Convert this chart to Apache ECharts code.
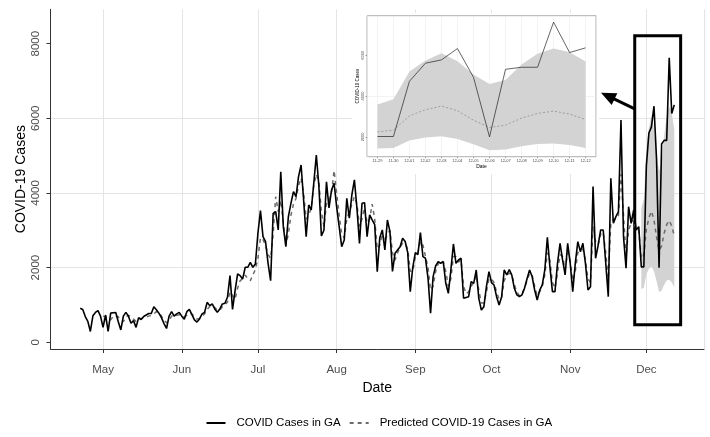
<!DOCTYPE html>
<html><head><meta charset="utf-8">
<script src="https://cdn.jsdelivr.net/npm/echarts@6/dist/echarts.min.js"></script>
<style>html,body{margin:0;padding:0;background:#fff}#c{width:710px;height:437px}</style>
</head><body><div id="c"></div>
<script>
// ---------- data ----------
const actualStart = [2020, 3, 22];      // 2020-04-22
const actual = [
 910, 880, 690, 560, 290, 710, 800, 850, 700, 400,
 730, 290, 780, 790, 800, 550, 330, 700, 800, 700,
 510, 580, 400, 660, 610, 690, 730, 770, 770, 950,
 870, 780, 660, 500, 370, 700, 820, 700, 760, 800,
 700, 620, 820, 880, 740, 600, 540, 625,
 759, 803, 1070, 982, 1026, 893, 803, 893, 1026, 1044,
 1205, 1785, 880, 1384, 1830, 1785, 1697, 2009, 2009, 2143, 2009, 2098,
 2920, 3527, 2830, 2697, 2116, 1650, 3455, 3500, 3009, 4570,
 3098, 2562, 3366, 3723, 4036, 3902, 4438, 4750, 3813, 2830,
 3679, 3544, 4259, 5018,
 4200, 2850, 3000, 4300, 3600, 4081, 4260, 3634, 3098, 2560,
 2741, 3858, 3322, 3947, 4350, 3590, 2650, 3724, 3740, 2830,
 3411, 3277, 3150, 1890, 2800, 3009, 2473, 3277, 2964, 1900,
 2384, 2473, 2561, 2785, 2700, 2400,
 1356, 2009, 2400, 2350, 2940, 2293, 2250, 1714, 777, 1758,
 2044, 2160, 2116, 2160, 1580, 1312, 1937, 2634, 2116, 2205,
 2250, 1178, 1200, 1222, 1624, 1580, 1937, 1178, 865, 954,
 1490, 1892, 1600, 1535, 1222, 1000, 1222, 1937, 1803, 1950,
 1800, 1446, 1270, 1222, 1270, 1446, 1700, 1937, 1760, 1400,
 1133, 1400, 1535, 1937, 2813, 2026, 1356, 1356, 2116, 2652,
 2205, 1803, 2652, 2116, 1356, 2116, 2696, 2428, 2652, 2116,
 1401, 1490, 4170, 2250, 2600, 3009, 3009, 2116, 1222, 4393,
 3188, 3366, 3500, 5955, 2830, 1982, 3633, 3188, 3544, 3009, 3098,
 2020, 2020, 4722, 5607, 5770, 6325, 4920, 2000, 5310, 5410, 5410, 7620, 6130, 6360
];
const predictedStart = [2020, 4, 1];    // 2020-05-01
const predicted = [
 700, 680, 650, 600, 700, 720, 680, 600, 550, 680, 720,
 690, 620, 560, 600, 640, 650, 680, 700, 720, 760,
 820, 800, 700, 600, 520, 580, 700, 740, 720, 740,
 730, 690, 720, 780, 760, 680, 620, 640,
 700, 760, 880, 960, 980, 930, 860, 860, 950, 1000,
 1080, 1350, 1250, 1150, 1450, 1650, 1700, 1800, 1700, 1650, 1800, 1950,
 2250, 2800, 2750, 2600, 2350, 2250, 2900, 3900, 3500, 3800,
 3200, 2600, 2900, 3400, 3700, 3850, 4200, 4400, 4000, 3300,
 3400, 3600, 4200, 4500,
 4300, 3500, 3100, 3700, 3800, 4000, 4600, 4000, 3400, 2900,
 2800, 3300, 3500, 3700, 3900, 3700, 3100, 3300, 3600, 3200,
 3300, 3700, 3300, 2500, 2600, 2900, 2700, 2900, 3000, 2400,
 2200, 2400, 2550, 2650, 2650, 2500,
 1900, 1900, 2300, 2400, 2700, 2600, 2300, 2000, 1400, 1500,
 1900, 2100, 2200, 2150, 1900, 1500, 1700, 2300, 2300, 2150,
 2200, 1500, 1300, 1350, 1500, 1600, 1800, 1400, 1050, 1050,
 1350, 1700, 1700, 1600, 1350, 1150, 1200, 1650, 1800, 1850,
 1800, 1550, 1350, 1250, 1300, 1450, 1650, 1850, 1800, 1500,
 1250, 1350, 1500, 1800, 2400, 2200, 1600, 1450, 1850, 2350,
 2300, 1950, 2400, 2200, 1650, 1900, 2400, 2450, 2500, 2200,
 1700, 1600, 3100, 2700, 2600, 2900, 2950, 2400, 1700, 3200,
 3300, 3300, 3400, 4500, 3400, 2300, 3000, 3200, 3300, 3000, 3000,
 2245, 2330, 3030, 3330, 3510, 3280, 2820, 2460, 2575, 2920, 3150, 3265, 3115, 2855
];
const bandStart = [2020, 10, 29];       // 2020-11-29
const bandUpper = [3590, 3840, 5200, 5740, 6100, 5700, 5050, 4590, 4790, 5540, 6065, 6325, 6150, 5690];
const bandLower = [1430, 1460, 1820, 1970, 2035, 1900, 1640, 1345, 1380, 1540, 1655, 1675, 1605, 1460];

const monthLabels = ['May', 'Jun', 'Jul', 'Aug', 'Sep', 'Oct', 'Nov', 'Dec'];
const monthTickDates = [[2020,4,1],[2020,5,1],[2020,6,1],[2020,7,1],[2020,8,1],[2020,9,1],[2020,10,1],[2020,11,1]];
const yTicks = [0, 2000, 4000, 6000, 8000];
const insetYTicks = [2000, 4000, 6000];

const seriesNames = ['COVID Cases in GA', 'Predicted COVID-19 Cases in GA'];
const yTitle = 'COVID-19 Cases';
const xTitle = 'Date';

// annotation (highlight box + arrow) in data coordinates
const boxFrom = [2020, 10, 26, 10], boxTo = [2020, 11, 14, 12];
const boxLow = 470, boxHigh = 8210;
const arrowFrom = [2020, 10, 26, 10], arrowFromVal = 6250;
const arrowTo = [2020, 10, 15, 19], arrowToVal = 6600;
const mainYMin = -180, mainYMax = 8920;

// ---------- helpers ----------
const DAY = 86400000;
const tOf = (a, add) => new Date(a[0], a[1], a[2] + (add || 0), a[3] || 0).getTime();
const FONT = 'Liberation Sans, Arial, Helvetica, sans-serif';
const pad2 = n => (n < 10 ? '0' : '') + n;
const plain = v => String(v);

const actualData = actual.map((v, i) => [tOf(actualStart, i), v]);
const predData = predicted.map((v, i) => [tOf(predictedStart, i), v]);
const bandTimes = bandUpper.map((v, i) => tOf(bandStart, i));
const monthTicks = monthTickDates.map(d => tOf(d));

const tStart = tOf(actualStart), tEnd = tOf(actualStart, actual.length - 1);
const pad = 0.05 * (tEnd - tStart);

const iA = Math.round((tOf(bandStart) - tStart) / DAY);
const iP = Math.round((tOf(bandStart) - tOf(predictedStart)) / DAY);
const insetActual = actualData.slice(iA);
const insetPred = predData.slice(iP);
const iStart = bandTimes[0], iEnd = bandTimes[bandTimes.length - 1];
const iPad = 0.05 * (iEnd - iStart);
const allInset = bandUpper.concat(bandLower, insetActual.map(d => d[1]), insetPred.map(d => d[1]));
const iyMinD = Math.min(...allInset), iyMaxD = Math.max(...allInset);
const iyPad = 0.05 * (iyMaxD - iyMinD);

function monthFmt(v) {
  const i = monthTicks.indexOf(Number(v));
  return i >= 0 ? monthLabels[i] : '';
}
function dayFmt(v) {
  const d = new Date(v);
  return d.getHours() === 0 && d.getMinutes() === 0 ? pad2(d.getMonth() + 1) + '-' + pad2(d.getDate()) : '';
}

function band(xi, yi, z, color) {
  return {
    type: 'custom', xAxisIndex: xi, yAxisIndex: yi, z: z, silent: true, clip: true,
    data: bandTimes.map((t, i) => [t, bandLower[i], bandUpper[i]]),
    encode: { x: 0, y: [1, 2] },
    renderItem: function (params, api) {
      if (params.dataIndex !== 0) return null;
      const pts = [];
      for (let i = 0; i < bandTimes.length; i++) pts.push(api.coord([bandTimes[i], bandUpper[i]]));
      for (let i = bandTimes.length - 1; i >= 0; i--) pts.push(api.coord([bandTimes[i], bandLower[i]]));
      return { type: 'polygon', shape: { points: pts }, style: { fill: color } };
    }
  };
}

const GRID = '#e4e4e4';
const chart = echarts.init(document.getElementById('c'), null, { renderer: 'canvas' });
chart.setOption({
  animation: false,
  backgroundColor: '#fff',
  textStyle: { fontFamily: FONT },
  graphic: [{ type: 'rect', z: 50, silent: true, shape: { x: 352, y: 13, width: 247, height: 161 }, style: { fill: '#fff' } }],
  legend: {
    left: 205.5, top: 417, padding: 0, itemWidth: 19, itemHeight: 12, itemGap: 8,
    data: seriesNames,
    itemStyle: { opacity: 0 },
    textStyle: { fontSize: 11.5, color: '#000', fontFamily: FONT, padding: [0, 0, 0, 6] }
  },
  grid: [
    { left: 50.5, width: 653.5, top: 9.3, height: 339.7, outerBoundsMode: 'none', containLabel: false },
    { left: 367, width: 229, top: 15.7, height: 141, outerBoundsMode: 'none', containLabel: false,
      show: true, backgroundColor: '#fff', borderColor: '#9a9a9a', borderWidth: 0.8, z: 60 }
  ],
  xAxis: [
    {
      gridIndex: 0, type: 'time', min: tStart - pad, max: tEnd + pad,
      minInterval: 28 * DAY, maxInterval: 31 * DAY,
      axisLine: { show: true, onZero: false, lineStyle: { color: '#333', width: 1 } },
      axisTick: { show: false },
      axisLabel: { show: false },
      splitLine: { show: true, lineStyle: { color: GRID, width: 1 } },
      name: xTitle, nameLocation: 'middle', nameGap: 32,
      nameTextStyle: { fontSize: 14, color: '#000', fontFamily: FONT }
    },
    {
      gridIndex: 1, type: 'time', min: iStart - iPad, max: iEnd + iPad, z: 61,
      minInterval: DAY, maxInterval: DAY,
      axisLine: { show: false, onZero: false },
      axisTick: { show: true, length: 1.5, lineStyle: { color: '#555', width: 0.5 } },
      axisLabel: { color: '#4d4d4d', fontSize: 4, margin: 2.5, fontFamily: FONT, formatter: dayFmt, hideOverlap: false },
      splitLine: { show: true, lineStyle: { color: '#ebebeb', width: 0.6 } },
      name: xTitle, nameLocation: 'middle', nameGap: 7.5,
      nameTextStyle: { fontSize: 5, color: '#000', fontFamily: FONT }
    },
    {
      gridIndex: 0, type: 'value', min: tStart - pad, max: tEnd + pad, position: 'bottom',
      axisLine: { show: false, onZero: false },
      axisTick: { show: true, length: 4, lineStyle: { color: '#333' }, customValues: monthTicks },
      axisLabel: { customValues: monthTicks, color: '#4d4d4d', fontSize: 11.5, margin: 15, fontFamily: FONT, formatter: monthFmt },
      splitLine: { show: false }
    }
  ],
  yAxis: [
    {
      gridIndex: 0, type: 'value', min: mainYMin, max: mainYMax,
      axisLine: { show: true, onZero: false, lineStyle: { color: '#333', width: 1 } },
      axisTick: { show: true, length: 4, lineStyle: { color: '#333' }, customValues: yTicks },
      axisLabel: { customValues: yTicks, rotate: 90, color: '#4d4d4d', fontSize: 11.5, margin: 9, fontFamily: FONT, formatter: plain },
      splitLine: { show: true, showMinLine: false, showMaxLine: false, lineStyle: { color: GRID, width: 1 } },
      name: yTitle, nameLocation: 'middle', nameGap: 22, nameMoveOverlap: false,
      nameTextStyle: { fontSize: 14, color: '#000', fontFamily: FONT }
    },
    {
      gridIndex: 1, type: 'value', min: iyMinD - iyPad, max: iyMaxD + iyPad, z: 61,
      axisLine: { show: false, onZero: false },
      axisTick: { show: true, length: 1.5, lineStyle: { color: '#555', width: 0.5 }, customValues: insetYTicks },
      axisLabel: { customValues: insetYTicks, rotate: 90, color: '#4d4d4d', fontSize: 4, margin: 2, fontFamily: FONT, formatter: plain },
      splitLine: { show: true, showMinLine: false, showMaxLine: false, lineStyle: { color: '#ebebeb', width: 0.6 } },
      name: yTitle, nameLocation: 'middle', nameGap: 7, nameMoveOverlap: false,
      nameTextStyle: { fontSize: 4.5, color: '#000', fontFamily: FONT }
    }
  ],
  series: [
    band(0, 0, 1, '#d3d3d3'),
    {
      name: seriesNames[1], type: 'line', xAxisIndex: 0, yAxisIndex: 0, z: 3,
      data: predData, showSymbol: false, symbol: 'none',
      lineStyle: { color: '#6b6b6b', width: 1.5, type: [4, 4] }, itemStyle: { color: '#6b6b6b' }
    },
    {
      name: seriesNames[0], type: 'line', xAxisIndex: 0, yAxisIndex: 0, z: 4,
      data: actualData, showSymbol: false, symbol: 'none',
      lineStyle: { color: '#000', width: 1.6 }, itemStyle: { color: '#000' },
      markArea: {
        silent: true,
        itemStyle: { color: 'rgba(0,0,0,0)', borderColor: '#000', borderWidth: 3 },
        label: { show: false },
        data: [[{ coord: [tOf(boxFrom), boxHigh] }, { coord: [tOf(boxTo), boxLow] }]]
      },
      markLine: {
        silent: true, symbol: ['none', 'triangle'], symbolSize: [13, 15],
        lineStyle: { color: '#000', width: 3, type: 'solid' }, label: { show: false },
        data: [[{ coord: [tOf(arrowFrom), arrowFromVal] }, { coord: [tOf(arrowTo), arrowToVal] }]]
      }
    },
    band(1, 1, 62, '#d3d3d3'),
    {
      name: 'inset-pred', type: 'line', xAxisIndex: 1, yAxisIndex: 1, z: 63,
      data: insetPred, showSymbol: false, symbol: 'none',
      lineStyle: { color: '#777', width: 0.6, type: [2, 2] }
    },
    {
      name: 'inset-actual', type: 'line', xAxisIndex: 1, yAxisIndex: 1, z: 64,
      data: insetActual, showSymbol: false, symbol: 'none',
      lineStyle: { color: '#222', width: 0.7 }
    }
  ]
});
</script>
</body></html>
